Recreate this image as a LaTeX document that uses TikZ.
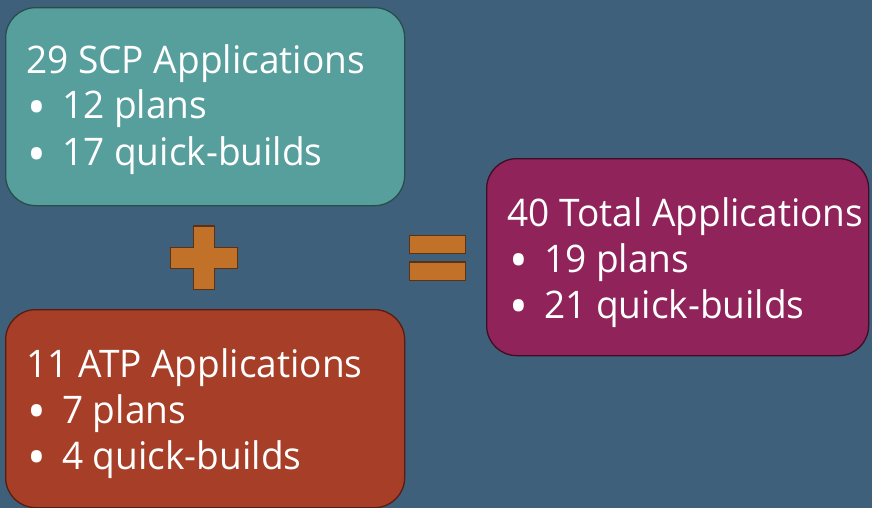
\documentclass[tikz,border=0pt]{standalone}
\usepackage{fontspec}
\usepackage{graphicx}
\setmainfont{Open Sans}[FakeStretch=0.975]
\definecolor{bg}{RGB}{63,96,122}
\definecolor{scpfill}{RGB}{87,159,157}
\definecolor{scpline}{RGB}{40,78,76}
\definecolor{atpfill}{RGB}{167,62,39}
\definecolor{atpline}{RGB}{88,28,16}
\definecolor{totfill}{RGB}{143,35,90}
\definecolor{totline}{RGB}{62,14,38}
\definecolor{opfill}{RGB}{194,113,40}
\definecolor{opline}{RGB}{92,50,18}
\tikzset{
  box/.style={draw, line width=1.3pt, rounded corners=30pt, anchor=north west, inner sep=0pt},
  txt/.style={anchor=base west, inner sep=0pt, text=white, font=\fontsize{38}{45}\selectfont},
  opbox/.style={draw=opline, fill=opfill, line width=1.3pt}
}
\newcommand{\bul}[1]{\makebox[35pt][l]{\smash{\raisebox{-6.5pt}{\scalebox{1.35}{•}}}}#1}
\begin{document}
\begin{tikzpicture}[x=1pt,y=-1pt]
\fill[bg] (0,0) rectangle (872,508);
\useasboundingbox (0,0) rectangle (872,508);
% boxes
\node[box, draw=scpline, fill=scpfill, minimum width=399pt, minimum height=198pt] (scp) at (5,7) {};
\node[box, draw=atpline, fill=atpfill, minimum width=399pt, minimum height=198pt] (atp) at (5,309) {};
\node[box, draw=totline, fill=totfill, minimum width=382pt, minimum height=197pt] (tot) at (486,158) {};
% texts
\node[txt] (scp1) at (26,73.3) {29 SCP Applications};
\node[txt] (scp2) at (27,119) {\bul{12 plans}};
\node[txt] (scp3) at (27,165.7) {\bul{17 quick-builds}};
\node[txt] (atp1) at (26,377.3) {11 ATP Applications};
\node[txt] (atp2) at (27,423.3) {\bul{7 plans}};
\node[txt] (atp3) at (27,469.3) {\bul{4 quick-builds}};
\node[txt] (tot1) at (507,226.7) {40 Total Applications};
\node[txt] (tot2) at (509,272.3) {\bul{19 plans}};
\node[txt] (tot3) at (509,318.3) {\bul{21 quick-builds}};
% plus
\draw[opbox] (193.7,226) -- (214.3,226) -- (214.3,247.7) -- (237.7,247.7) -- (237.7,268.3)
  -- (214.3,268.3) -- (214.3,289.3) -- (193.7,289.3) -- (193.7,268.3) -- (170.7,268.3)
  -- (170.7,247.7) -- (193.7,247.7) -- cycle;
% equals
\draw[opbox] (409.7,235.3) rectangle (465.7,253.7);
\draw[opbox] (409.7,262) rectangle (465.7,280.3);
\end{tikzpicture}
\end{document}
